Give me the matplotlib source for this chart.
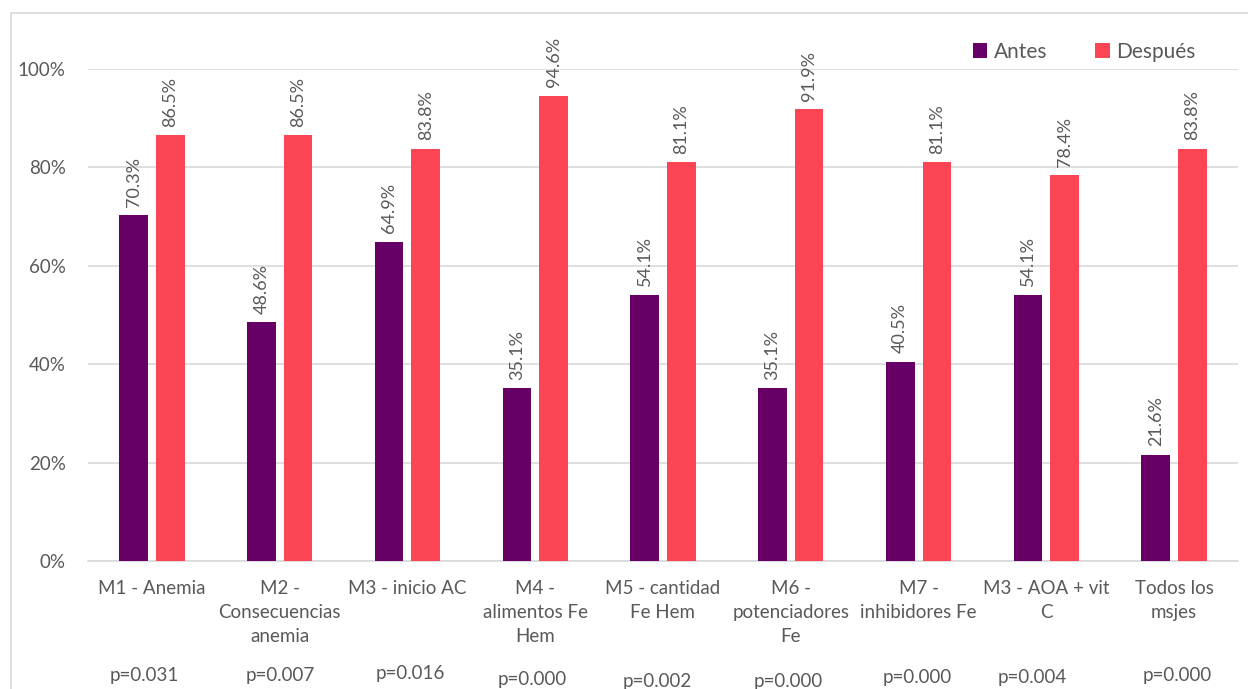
import matplotlib
matplotlib.use("Agg")
import matplotlib.pyplot as plt
import numpy as np
from matplotlib.patches import Rectangle

plt.rcParams['font.family'] = ['Lato', 'DejaVu Sans']

categories = [
    "M1 - Anemia",
    "M2 -\nConsecuencias\nanemia",
    "M3 - inicio AC",
    "M4 -\nalimentos Fe\nHem",
    "M5 - cantidad\nFe Hem",
    "M6 -\npotenciadores\nFe",
    "M7 -\ninhibidores Fe",
    "M3 - AOA + vit\nC",
    "Todos los\nmsjes",
]
antes = [70.3, 48.6, 64.9, 35.1, 54.1, 35.1, 40.5, 54.1, 21.6]
despues = [86.5, 86.5, 83.8, 94.6, 81.1, 91.9, 81.1, 78.4, 83.8]
p_values = ["p=0.031", "p=0.007", "p=0.016", "p=0.000", "p=0.002",
            "p=0.000", "p=0.000", "p=0.004", "p=0.000"]
# centre x and y (pixels) of each p-value label
p_pos = [(144, 675), (280, 676), (410, 673), (532, 679), (657, 682),
         (788, 682), (917, 677), (1032, 677), (1177, 675)]

purple = "#660066"
red = "#FB4454"
grey_text = "#595959"
grid_col = "#D9D9D9"

W, H = 1248, 689
fig = plt.figure(figsize=(W / 100, H / 100), dpi=100)

# outer chart frame
fig.patches.append(Rectangle((11 / W, -0.1), 1.2, 1 - 13 / H + 0.1,
                             transform=fig.transFigure, fill=False,
                             edgecolor=grid_col, linewidth=1.2))

ax = fig.add_axes([88 / W, 1 - 561 / H, (1238 - 88) / W, (561 - 69) / H])
x = np.arange(len(categories))
bw = 0.225
gap = 0.062
off = (bw + gap) / 2
ax.bar(x - off, antes, width=bw, color=purple, label="Antes", zorder=3)
ax.bar(x + off, despues, width=bw, color=red, label="Después", zorder=3)

for xi, v in zip(x, antes):
    ax.annotate(f"{v:.1f}%", (xi - off, v), xytext=(0, 6), textcoords="offset points",
                rotation=90, ha="center", va="bottom", fontsize=13, color=grey_text)
for xi, v in zip(x, despues):
    ax.annotate(f"{v:.1f}%", (xi + off, v), xytext=(0, 6), textcoords="offset points",
                rotation=90, ha="center", va="bottom", fontsize=13, color=grey_text,
                annotation_clip=False)

ax.set_xlim(-0.5, len(categories) - 0.5)
ax.set_ylim(0, 100)
ax.set_yticks([0, 20, 40, 60, 80, 100])
ax.set_yticklabels([f"{t}%" for t in [0, 20, 40, 60, 80, 100]])
ax.set_xticks(x)
ax.set_xticklabels(categories, linespacing=1.5)
ax.tick_params(axis="both", length=0, colors=grey_text, labelsize=13.5)
ax.tick_params(axis="y", pad=16)
ax.tick_params(axis="x", pad=14)
ax.yaxis.grid(True, color=grid_col, linewidth=1.2, zorder=0)
for s in ["top", "right", "left"]:
    ax.spines[s].set_visible(False)
ax.spines["bottom"].set_color(grid_col)
ax.spines["bottom"].set_linewidth(1.2)
ax.set_facecolor("none")

for txt, (px, py) in zip(p_values, p_pos):
    fig.text(px / W, 1 - py / H, txt, ha="center", va="center",
             fontsize=13.5, color=grey_text)

leg = fig.legend(loc="center", bbox_to_anchor=(1084 / W, 1 - 52 / H), ncol=2,
                 frameon=False, fontsize=15, handlelength=0.7, handleheight=0.7,
                 handletextpad=0.3, columnspacing=2.3, labelcolor=grey_text)

fig.savefig("out.png", dpi=100)
